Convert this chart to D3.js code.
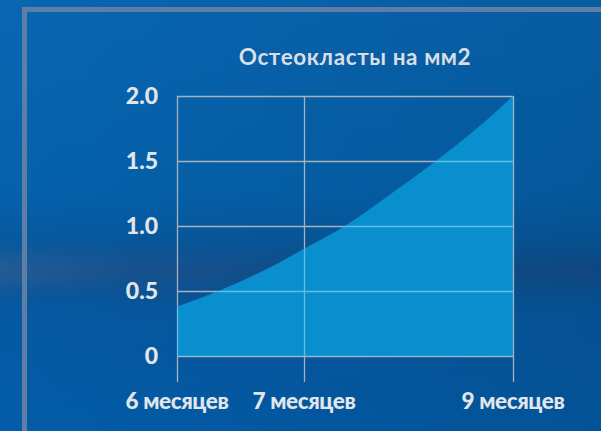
<!DOCTYPE html>
<html><head><meta charset="utf-8">
<script src="https://cdn.jsdelivr.net/npm/d3@7"></script>
<style>html,body{margin:0;padding:0;background:#0561ab;overflow:hidden}svg{display:block}</style>
</head><body>
<script>
const title = "Остеокласты на мм2";
const months = [6, 7, 9];
const xLabels = ["6 месяцев", "7 месяцев", "9 месяцев"];
const yTicks = [0, 0.5, 1.0, 1.5, 2.0];
const yTickLabels = ["0", "0.5", "1.0", "1.5", "2.0"];
const curveMonths = [6, 6.35, 6.73, 7, 7.39, 7.82, 8.23, 8.66, 9];
const curveValues = [0.38, 0.51, 0.68, 0.825, 1.0, 1.24, 1.48, 1.755, 2.0];

const W = 601, H = 431;
const m = {left: 177, right: 88, top: 96, bottom: 75};
const w = W - m.left - m.right, h = H - m.top - m.bottom;

const svg = d3.select("body").append("svg").attr("width", W).attr("height", H);
const defs = svg.append("defs");
const bg = defs.append("linearGradient").attr("id", "bg").attr("x1", 0).attr("y1", 0).attr("x2", 0).attr("y2", 1);
[[0, "#0866b2"], [0.45, "#0561ab"], [0.55, "#07599f"], [0.63, "#104e8d"], [0.72, "#0659a2"], [1, "#035ca8"]]
  .forEach(([o, c]) => bg.append("stop").attr("offset", o).attr("stop-color", c));
const hz = defs.append("linearGradient").attr("id", "hz").attr("x1", 0).attr("y1", 0).attr("x2", 1).attr("y2", 0);
[[0, "#000", 0], [1, "#000", 0.1]].forEach(([o, c, op]) => hz.append("stop").attr("offset", o).attr("stop-color", c).attr("stop-opacity", op));
const band = defs.append("linearGradient").attr("id", "band").attr("x1", 0).attr("y1", 0).attr("x2", 1).attr("y2", 0);
[[0, "#9ab0c8", 0.16], [0.25, "#9ab0c8", 0.05], [0.6, "#9ab0c8", 0]].forEach(([o, c, op]) => band.append("stop").attr("offset", o).attr("stop-color", c).attr("stop-opacity", op));
defs.append("filter").attr("id", "blur").attr("x", "-10%").attr("y", "-100%").attr("width", "120%").attr("height", "300%")
  .append("feGaussianBlur").attr("stdDeviation", 10);

svg.append("rect").attr("width", W).attr("height", H).attr("fill", "url(#bg)");
svg.append("rect").attr("width", W).attr("height", H).attr("fill", "url(#hz)");
svg.append("rect").attr("x", -20).attr("y", 255).attr("width", W + 40).attr("height", 30).attr("fill", "url(#band)").attr("filter", "url(#blur)");

// frame
svg.append("rect").attr("x", 24.5).attr("y", 9.5).attr("width", 700).attr("height", 600)
  .attr("fill", "none").attr("stroke", "#5f7ea6").attr("stroke-width", 5);

const x = d3.scaleLinear().domain(months).range([0, w * 0.378, w]);
const y = d3.scaleLinear().domain([0, 2]).range([h, 0]);

const g = svg.append("g").attr("transform", `translate(${m.left},${m.top})`);

const pts = curveMonths.map((mo, i) => ({mo, v: curveValues[i]}));
const area = d3.area().x(d => x(d.mo)).y0(y(0)).y1(d => y(d.v)).curve(d3.curveNatural);

defs.append("clipPath").attr("id", "areaClip").append("path")
  .attr("transform", `translate(${m.left},${m.top})`).attr("d", area(pts));

function grid(sel, color) {
  sel.selectAll(".hl").data(yTicks).join("line").attr("class", "hl")
    .attr("x1", 0).attr("x2", w).attr("y1", d => Math.round(y(d)) + 0.5).attr("y2", d => Math.round(y(d)) + 0.5)
    .attr("stroke", color).attr("stroke-width", 1.3);
  sel.selectAll(".vl").data(months).join("line").attr("class", "vl")
    .attr("y1", 0).attr("y2", h + 26).attr("x1", d => Math.round(x(d)) + 0.5).attr("x2", d => Math.round(x(d)) + 0.5)
    .attr("stroke", color).attr("stroke-width", 1.3);
}
grid(g.append("g"), "#a7b2bc");
g.append("path").attr("d", area(pts)).attr("fill", "#0a8fce");
grid(svg.append("g").attr("clip-path", "url(#areaClip)").append("g").attr("transform", `translate(${m.left},${m.top})`), "#62bde6");

const font = "Lato, 'Open Sans', sans-serif";
g.selectAll(".yl").data(yTicks).join("text").attr("class", "yl")
  .attr("x", -19).attr("y", d => y(d)).attr("dy", "0.36em")
  .attr("text-anchor", "end").attr("fill", "#e2e6ea")
  .style("font-family", font).style("font-weight", 900).style("font-size", "23px")
  .text((d, i) => yTickLabels[i]);

g.selectAll(".xl").data(months).join("text").attr("class", "xl")
  .attr("x", d => x(d)).attr("y", h + 53)
  .attr("text-anchor", "middle").attr("fill", "#e2e6ea")
  .style("font-family", font).style("font-weight", 900).style("font-size", "22.5px")
  .style("letter-spacing", "-0.4px")
  .text((d, i) => xLabels[i]);

svg.append("text").attr("x", 355).attr("y", 65).attr("text-anchor", "middle")
  .attr("fill", "#d9dee4").style("font-family", font).style("font-weight", 700).style("font-size", "22.5px")
  .style("letter-spacing", "0.6px")
  .text(title);
</script>
</body></html>
